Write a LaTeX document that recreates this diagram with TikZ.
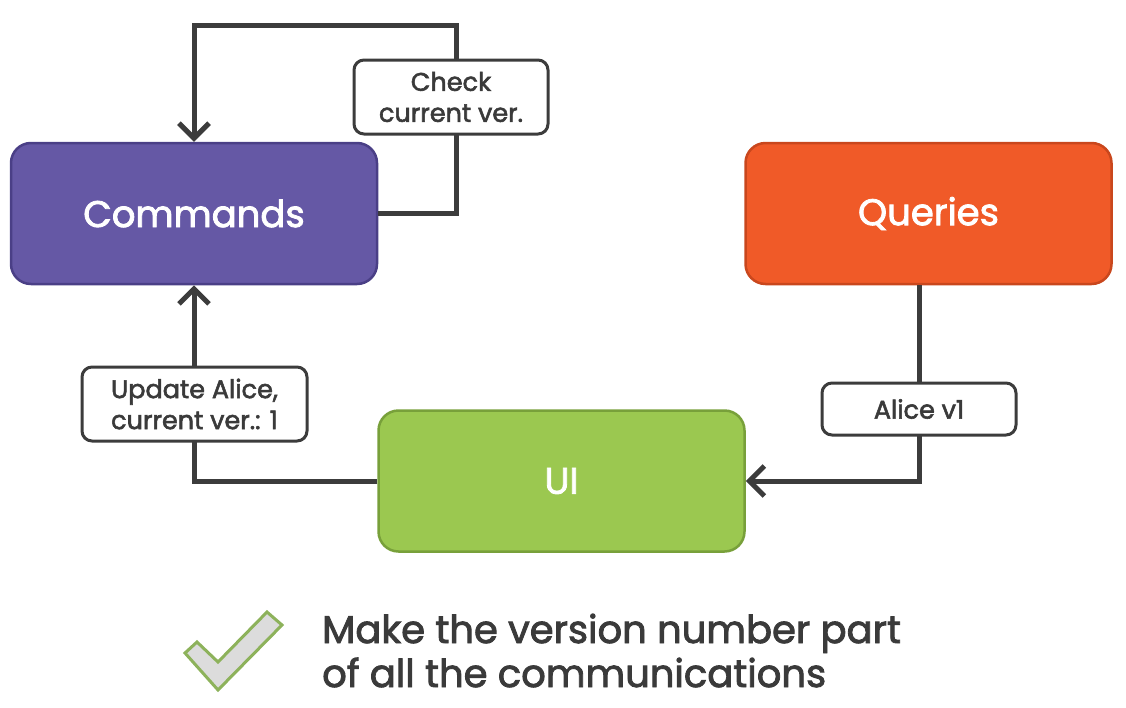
\documentclass[tikz,border=0pt]{standalone}
\usepackage{fontspec}
\setmainfont{Poppins}
\newfontfamily\medfont{Poppins}[FakeBold=2.2]
\usetikzlibrary{arrows.meta}

\definecolor{cmdfill}{HTML}{6558A5}
\definecolor{cmdline}{HTML}{4A3F86}
\definecolor{qryfill}{HTML}{F05A28}
\definecolor{qryline}{HTML}{C9471D}
\definecolor{uifill}{HTML}{9BC850}
\definecolor{uiline}{HTML}{78A03A}
\definecolor{linegray}{HTML}{3C3C3C}
\definecolor{textgray}{HTML}{3A3A3A}
\definecolor{checkfill}{HTML}{DCDCDC}
\definecolor{checkline}{HTML}{8DB25B}

\tikzset{
    block/.style={draw, rounded corners=20pt, line width=2.5pt,
        minimum width=366pt, minimum height=141pt, text=white,
        font=\medfont\fontsize{37}{44}\selectfont},
    tag/.style={draw=linegray, fill=white, rounded corners=10pt, line width=3pt,
        align=center, text=textgray, minimum width=194pt, minimum height=52pt,
        inner sep=0pt, font=\medfont\fontsize{25.5}{31}\selectfont},
    flow/.style={draw=linegray, line width=5pt,
        -{Straight Barb[length=15pt, width=30pt]}},
}

\begin{document}
\begin{tikzpicture}[x=1pt, y=-1pt]
    \useasboundingbox (0, 0) rectangle (1126, 707);

    %% blocks
    \node[block, fill=cmdfill, draw=cmdline] (cmd) at (194, 213.5) {Commands};
    \node[block, fill=qryfill, draw=qryline] (qry) at (928.5, 213.5) {Queries};
    \node[block, fill=uifill, draw=uiline] (ui) at (561.5, 481) {UI};

    %% connectors
    \coordinate (looptop) at (456, 25);
    \coordinate (qdrop) at (919, 0);
    \draw[flow] (cmd.east) -- (cmd.east -| looptop) -- (looptop)
        -- (looptop -| cmd.north) -- (cmd.north);
    \draw[flow] (ui.west) -| (cmd.south);
    \draw[flow] (qry.south -| qdrop) |- (ui.east);

    %% labels
    \node[tag, minimum height=74pt] (check) at (451, 97) {Check\\current ver.};
    \node[tag, minimum width=225pt, minimum height=74pt] (update) at (194.5, 404)
        {Update Alice,\\current ver.: 1};
    \node[tag] (alice) at (919, 409) {Alice v1};

    %% check mark and note
    \draw[draw=checkline, fill=checkfill, line width=3pt, line join=miter]
        (185, 653) -- (197, 642) -- (218, 662) -- (267, 612)
        -- (282, 625) -- (218, 690) -- cycle;
    \node[anchor=base west, align=left, text=textgray, inner sep=0pt,
        font=\medfont\fontsize{38.5}{44}\selectfont] (note) at (322, 687)
        {Make the version number part\\of all the communications};
\end{tikzpicture}
\end{document}
